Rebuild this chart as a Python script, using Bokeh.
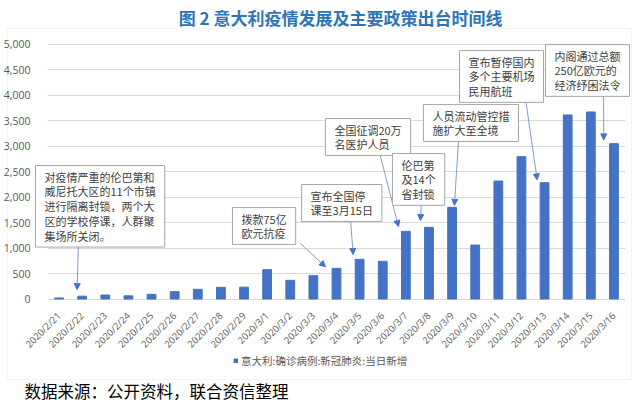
from bokeh.plotting import figure
from bokeh.models import (Range1d, NumeralTickFormatter, SingleIntervalTicker, FixedTicker,
                          Label, Arrow, NormalHead, BoxAnnotation, Legend, LegendItem)
from bokeh.embed import file_html
from bokeh.resources import INLINE
from math import pi

dates = ["2020/2/21", "2020/2/22", "2020/2/23", "2020/2/24", "2020/2/25", "2020/2/26",
         "2020/2/27", "2020/2/28", "2020/2/29", "2020/3/1", "2020/3/2", "2020/3/3",
         "2020/3/4", "2020/3/5", "2020/3/6", "2020/3/7", "2020/3/8", "2020/3/9",
         "2020/3/10", "2020/3/11", "2020/3/12", "2020/3/13", "2020/3/14", "2020/3/15",
         "2020/3/16"]
new_cases = [20, 55, 78, 62, 91, 144, 190, 229, 232, 575, 366, 457,
             601, 778, 739, 1327, 1405, 1797, 1058, 2313, 2791, 2281, 3608, 3667, 3046]
series_name = "意大利:确诊病例:新冠肺炎:当日新增"
title_text = "图 2  意大利疫情发展及主要政策出台时间线"
source_text = "数据来源：公开资料，联合资信整理"

note_texts = [
    "对疫情严重的伦巴第和\n威尼托大区的11个市镇\n进行隔离封锁，两个大\n区的学校停课，人群聚\n集场所关闭。",
    "拨款75亿\n欧元抗疫",
    "宣布全国停\n课至3月15日",
    "全国征调20万\n名医护人员",
    "伦巴第\n及14个\n省封锁",
    "人员流动管控措\n施扩大至全境",
    "宣布暂停国内\n多个主要机场\n民用航班",
    "内阁通过总额\n250亿欧元的\n经济纾困法令",
]
note_targets = ["2020/2/22", "2020/3/4", "2020/3/5", "2020/3/7", "2020/3/8",
                "2020/3/9", "2020/3/13", "2020/3/16"]
note_box_x = [-1.02, 7.5, 10.49, 11.52, 14.42, 15.76, 17.32, 21.04]
note_box_y = [2617, 1793, 2244, 3538, 2852, 3812, 4871, 4988]
arrow_start_x = [0.84, 10.44, 12.61, 13.86, 15.68, 17.28, 20.17, 23.55]
arrow_start_y = [1147, 1088, 1539, 2871, 1950, 3126, 3949, 4184]
arrow_tip_dx = [-0.22, -0.48, -0.28, -0.32, -0.37, 0.1, -0.32, -0.44]
arrow_tip_dy = [130, 30, 94, 94, 134, 40, 55, 74]

# ---- layout geometry (pixels) ----
W, H = 640, 405
PLOT_L, PLOT_R = 47, 625          # plot area left/right
Y_TOP_PX, Y_ZERO_PX = 43.5, 298.5  # pixel rows of 5000 and 0
Y_MAX = 5000
n = len(dates)
cat_w = (PLOT_R - PLOT_L) / n
x_start = -0.5 - PLOT_L / cat_w
x_end = -0.5 + (W - PLOT_L) / cat_w
ppu = (Y_ZERO_PX - Y_TOP_PX) / Y_MAX
y_end = Y_MAX + Y_TOP_PX / ppu
y_start = -(H - Y_ZERO_PX) / ppu

CJK = "Noto Sans CJK SC"
GRAY = "#595959"

p = figure(width=W, height=H, output_backend="svg", toolbar_location=None,
           x_range=Range1d(x_start, x_end), y_range=Range1d(y_start, y_end),
           min_border=0, min_border_left=0, min_border_right=0,
           min_border_top=0, min_border_bottom=0)
p.outline_line_color = None
p.background_fill_color = "white"
p.border_fill_color = "white"

# outer chart box
p.add_layout(BoxAnnotation(left=7, right=631, top=H - 28, bottom=H - 379,
                           left_units="screen", right_units="screen",
                           top_units="screen", bottom_units="screen",
                           fill_color=None, line_color="#D9D9D9", line_width=1,
                           level="underlay"))

xs = list(range(n))
bars = p.vbar(x=xs, top=new_cases, width=0.38, color="#4472C4")

p.xgrid.grid_line_color = None
yg = p.ygrid[0]
yg.grid_line_color = "#D9D9D9"
yg.grid_line_width = 1
yg.bounds = (0, Y_MAX)
if "cross_bounds" in yg.properties():
    yg.cross_bounds = (-0.5, n - 0.5)

xa = p.xaxis[0]
ya = p.yaxis[0]
ya.ticker = SingleIntervalTicker(interval=500)
yg.ticker = ya.ticker
ya.formatter = NumeralTickFormatter(format="0,0")
ya.bounds = (0, Y_MAX)
ya.fixed_location = -0.5
xa.ticker = FixedTicker(ticks=xs)
xa.major_label_overrides = {i: d for i, d in enumerate(dates)}
xa.fixed_location = 0
for ax in (xa, ya):
    ax.axis_line_color = None
    ax.major_tick_line_color = None
    ax.minor_tick_line_color = None
    ax.major_label_text_color = GRAY
    ax.major_label_text_font = "Open Sans"
ya.major_label_text_font_size = "10.5px"
ya.major_label_standoff = 11
xa.major_label_text_font_size = "9.5px"
xa.major_label_orientation = pi / 4
xa.major_label_standoff = 9

# arrows and notes
for i, txt in enumerate(note_texts):
    idx = dates.index(note_targets[i])
    p.add_layout(Arrow(x_start=arrow_start_x[i], y_start=arrow_start_y[i],
                       x_end=idx + arrow_tip_dx[i],
                       y_end=new_cases[idx] + arrow_tip_dy[i],
                       line_color="#7F9FCF", line_width=1,
                       end=NormalHead(size=6, fill_color="#4472C4", line_color="#4472C4")))
for i, txt in enumerate(note_texts):
    p.add_layout(Label(x=note_box_x[i], y=note_box_y[i], text=txt, anchor="top_left",
                       text_font=CJK, text_font_size="11px", text_color="#404040",
                       text_line_height=0.93, padding=(9, 3),
                       background_fill_color="white", border_line_color="#A6A6A6",
                       border_line_width=1))

# title and source
p.add_layout(Label(x=342, y=H - 16.5, x_units="screen", y_units="screen", text=title_text,
                   anchor="center", text_font=CJK, text_font_size="17px",
                   text_font_style="bold", text_color="#2E75B6"))
p.add_layout(Label(x=24, y=H - 390.5, x_units="screen", y_units="screen", text=source_text,
                   anchor="center_left", text_font=CJK, text_font_size="16.5px",
                   text_color="#000000"))

legend = Legend(items=[LegendItem(label=series_name, renderers=[bars])],
                location=(233, H - 368), orientation="horizontal",
                label_text_font=CJK, label_text_font_size="10.5px", label_text_color=GRAY,
                glyph_width=5, glyph_height=5, label_standoff=3, padding=0, margin=0,
                background_fill_alpha=0, border_line_color=None)
p.add_layout(legend)

open("out.html", "w").write(file_html(p, INLINE))
